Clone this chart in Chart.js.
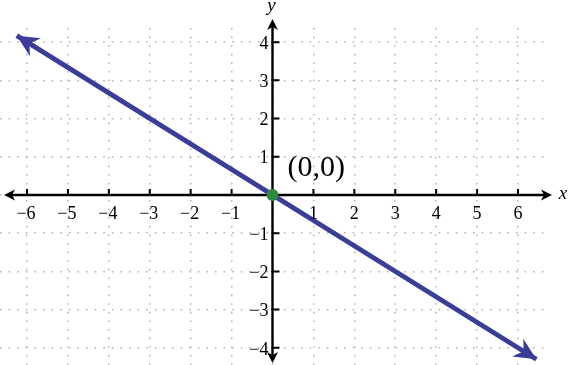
<!DOCTYPE html>
<html>
<head>
<meta charset="utf-8">
<script src="https://cdn.jsdelivr.net/npm/chart.js@4"></script>
<style>
  html, body { margin: 0; padding: 0; background: #fff; }
  #wrap { width: 569px; height: 365px; }
</style>
</head>
<body>
<div id="wrap"><canvas id="graph"></canvas></div>
<script>
// tick values on each axis
var xTicks = [-6, -5, -4, -3, -2, -1, 0, 1, 2, 3, 4, 5, 6];
var yTicks = [-4, -3, -2, -1, 0, 1, 2, 3, 4];
// the line y = -2/3 x, from arrow tip to arrow tip
var lineX = [-6.25, 6.45];
var lineY = [4.17, -4.3];
// the marked point
var pointX = [0];
var pointY = [0];
var pointLabel = "(0,0)";

var LINE_COLOR = "#3c3c99";
var DOT_COLOR = "#2b8a3e";
var SERIF = "'Liberation Serif', 'DejaVu Serif', serif";

// arrow head (stealth shape) at tip, pointing along angle
function arrowHead(ctx, x, y, ang, len, half, notch, color) {
  ctx.save();
  ctx.translate(x, y);
  ctx.rotate(ang);
  ctx.beginPath();
  ctx.moveTo(0, 0);
  ctx.lineTo(-len, -half);
  ctx.lineTo(-len + notch, 0);
  ctx.lineTo(-len, half);
  ctx.closePath();
  ctx.fillStyle = color;
  ctx.fill();
  ctx.restore();
}

// axes with arrows and tick marks, drawn under the data
var axesPlugin = {
  id: "axes",
  beforeDatasetsDraw: function (chart) {
    var ctx = chart.ctx;
    var sx = chart.scales.x, sy = chart.scales.y;
    var ox = sx.getPixelForValue(0), oy = sy.getPixelForValue(0);
    var left = 4, right = 552, top = 19, bottom = 363;
    ctx.save();
    ctx.strokeStyle = "#000";
    ctx.lineWidth = 2.4;
    ctx.beginPath();
    ctx.moveTo(left + 6, oy); ctx.lineTo(right - 6, oy);
    ctx.moveTo(ox, top + 6); ctx.lineTo(ox, bottom - 6);
    ctx.stroke();
    // tick marks
    ctx.lineWidth = 2;
    ctx.beginPath();
    xTicks.forEach(function (v) {
      if (v === 0) return;
      var px = sx.getPixelForValue(v);
      ctx.moveTo(px, oy - 6); ctx.lineTo(px, oy + 1);
    });
    yTicks.forEach(function (v) {
      if (v === 0) return;
      var py = sy.getPixelForValue(v);
      ctx.moveTo(ox - 1, py); ctx.lineTo(ox + 7, py);
    });
    ctx.stroke();
    arrowHead(ctx, right, oy, 0, 11, 5.5, 3, "#000");
    arrowHead(ctx, left, oy, Math.PI, 11, 5.5, 3, "#000");
    arrowHead(ctx, ox, top, -Math.PI / 2, 11, 5.5, 3, "#000");
    arrowHead(ctx, ox, bottom, Math.PI / 2, 11, 5.5, 3, "#000");
    ctx.restore();
  },
  afterDatasetsDraw: function (chart) {
    var ctx = chart.ctx;
    var pts = chart.getDatasetMeta(0).data;
    var a = pts[0], b = pts[pts.length - 1];
    var ang = Math.atan2(b.y - a.y, b.x - a.x);
    arrowHead(ctx, b.x, b.y, ang, 22, 10.5, 7, LINE_COLOR);
    arrowHead(ctx, a.x, a.y, ang + Math.PI, 22, 10.5, 7, LINE_COLOR);
  },
  afterDraw: function (chart) {
    var ctx = chart.ctx;
    var sx = chart.scales.x, sy = chart.scales.y;
    var ox = sx.getPixelForValue(0), oy = sy.getPixelForValue(0);
    ctx.save();
    ctx.fillStyle = "#000";
    ctx.font = "18px " + SERIF;
    ctx.textBaseline = "middle";
    ctx.textAlign = "center";
    xTicks.forEach(function (v) {
      if (v === 0) return;
      var txt = v < 0 ? "\u2212" + Math.abs(v) : String(v);
      ctx.fillText(txt, sx.getPixelForValue(v) - (v < 0 ? 1 : 0), oy + 19);
    });
    ctx.textAlign = "right";
    yTicks.forEach(function (v) {
      if (v === 0) return;
      var txt = v < 0 ? "\u2212" + Math.abs(v) : String(v);
      ctx.fillText(txt, ox - 4, sy.getPixelForValue(v) + 2);
    });
    // axis names
    ctx.font = "italic 19px " + SERIF;
    ctx.textAlign = "center";
    ctx.fillText("x", 563, oy - 1);
    ctx.fillText("y", ox - 1, 6);
    // point label
    var p = chart.getDatasetMeta(1).data[0];
    ctx.font = "30px " + SERIF;
    ctx.textAlign = "left";
    ctx.fillText(pointLabel, p.x + 15, p.y - 27);
    ctx.restore();
  }
};

function gridOpts() {
  return {
    color: "#b5b5b5",
    lineWidth: 1.5,
    drawTicks: false
  };
}

var ctx = document.getElementById("graph").getContext("2d");
var chart = new Chart(ctx, {
  type: "scatter",
  data: {
    datasets: [
      {
        label: "line",
        data: lineX.map(function (x, i) { return { x: x, y: lineY[i] }; }),
        showLine: true,
        borderColor: LINE_COLOR,
        borderWidth: 4.8,
        pointRadius: 0,
        order: 2
      },
      {
        label: "point",
        data: pointX.map(function (x, i) { return { x: x, y: pointY[i] }; }),
        pointRadius: 6,
        pointBackgroundColor: DOT_COLOR,
        pointBorderWidth: 0,
        order: 1
      }
    ]
  },
  options: {
    responsive: true,
    maintainAspectRatio: false,
    animation: false,
    events: [],
    // autoPadding would add 5px round the area for the points
    layout: { autoPadding: false, padding: { left: 0, top: 28, right: 24, bottom: 0 } },
    plugins: { legend: { display: false }, tooltip: { enabled: false } },
    scales: {
      x: {
        type: "linear",
        min: -6.66,
        max: 6.66,
        afterBuildTicks: function (s) { s.ticks = xTicks.map(function (v) { return { value: v }; }); },
        ticks: { display: false },
        border: { display: false, dash: [1.6, 7] },
        grid: gridOpts()
      },
      y: {
        type: "linear",
        min: -4.45,
        max: 4.37,
        afterBuildTicks: function (s) { s.ticks = yTicks.map(function (v) { return { value: v }; }); },
        ticks: { display: false },
        border: { display: false, dash: [1.6, 7] },
        grid: gridOpts()
      }
    }
  },
  plugins: [axesPlugin]
});
</script>
</body>
</html>
